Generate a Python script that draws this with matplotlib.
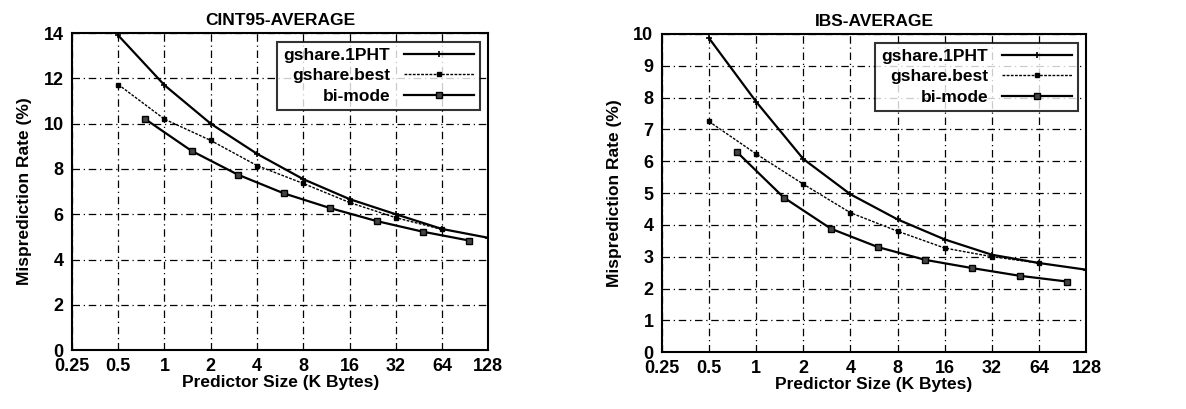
import numpy as np
import matplotlib
matplotlib.use("Agg")
import matplotlib.pyplot as plt

plt.rcParams["font.family"] = ["Liberation Sans", "DejaVu Sans"]
plt.rcParams["font.weight"] = "bold"
plt.rcParams["axes.labelweight"] = "bold"
plt.rcParams["axes.titleweight"] = "bold"

# predictor sizes in K bytes
sizes_gshare = [0.5, 1, 2, 4, 8, 16, 32, 64, 128]
sizes_best = [0.5, 1, 2, 4, 8, 16, 32, 64]
sizes_bimode = [0.75, 1.5, 3, 6, 12, 24, 48, 96]
xticks = [0.25, 0.5, 1, 2, 4, 8, 16, 32, 64, 128]
xtick_labels = ["0.25", "0.5", "1", "2", "4", "8", "16", "32", "64", "128"]

# CINT95 averages (%)
cint_gshare_1pht = [13.9, 11.7, 10.0, 8.67, 7.55, 6.67, 6.0, 5.35, 4.96]
cint_gshare_best = [11.73, 10.2, 9.26, 8.15, 7.36, 6.52, 5.85, 5.33]
cint_bimode = [10.2, 8.8, 7.75, 6.92, 6.27, 5.7, 5.23, 4.84]

# IBS averages (%)
ibs_gshare_1pht = [9.87, 7.87, 6.07, 4.96, 4.17, 3.54, 3.06, 2.8, 2.59]
ibs_gshare_best = [7.25, 6.23, 5.28, 4.38, 3.8, 3.27, 3.0, 2.8]
ibs_bimode = [6.3, 4.86, 3.88, 3.3, 2.9, 2.64, 2.4, 2.22]


def draw_panel(ax, title, g1, gb, bm, ymax, ystep):
    ax.plot(sizes_gshare, g1, color="black", lw=1.6, marker="+", ms=4,
            mew=1.2, label="gshare.1PHT")
    ax.plot(sizes_best, gb, color="black", lw=1.0, ls=(0, (2, 1)), marker="s",
            ms=3.5, label="gshare.best")
    ax.plot(sizes_bimode, bm, color="black", lw=1.6, marker="s", ms=4.5,
            mfc="#444444", label="bi-mode")

    ax.set_xscale("log", base=2)
    ax.set_xlim(0.25, 128)
    ax.set_ylim(0, ymax)
    ax.set_xticks(xticks)
    ax.set_xticklabels(xtick_labels)
    ax.set_yticks(np.arange(0, ymax + 0.1, ystep))
    ax.minorticks_off()
    ax.tick_params(labelsize=13, length=0, pad=6)
    ax.grid(True, color="black", lw=0.9, ls=(0, (6, 3, 1, 3)))
    for s in ax.spines.values():
        s.set_linewidth(1.5)

    ax.set_title(title, fontsize=12.5, pad=6)
    ax.set_xlabel("Predictor Size (K Bytes)", fontsize=12.5, labelpad=0)
    ax.set_ylabel("Misprediction Rate (%)", fontsize=12.5, labelpad=8)

    leg = ax.legend(loc="upper right", markerfirst=False, fontsize=12.5,
                    frameon=True, fancybox=False, handlelength=4.0,
                    borderaxespad=0.5, labelspacing=0.3, borderpad=0.35,
                    handletextpad=0.8)
    leg.get_frame().set_edgecolor("black")
    leg.get_frame().set_linewidth(1.5)
    for t in leg.get_texts():
        t.set_ha("right")


fig = plt.figure(figsize=(11.86, 4.09), dpi=100)
ax1 = fig.add_axes([0.0607, 0.144, 0.351, 0.775])
ax2 = fig.add_axes([0.558, 0.139, 0.358, 0.778])

draw_panel(ax1, "CINT95-AVERAGE", cint_gshare_1pht, cint_gshare_best,
           cint_bimode, 14, 2)
draw_panel(ax2, "IBS-AVERAGE", ibs_gshare_1pht, ibs_gshare_best,
           ibs_bimode, 10, 1)

fig.savefig("out.png", dpi=100)
plt.close(fig)
